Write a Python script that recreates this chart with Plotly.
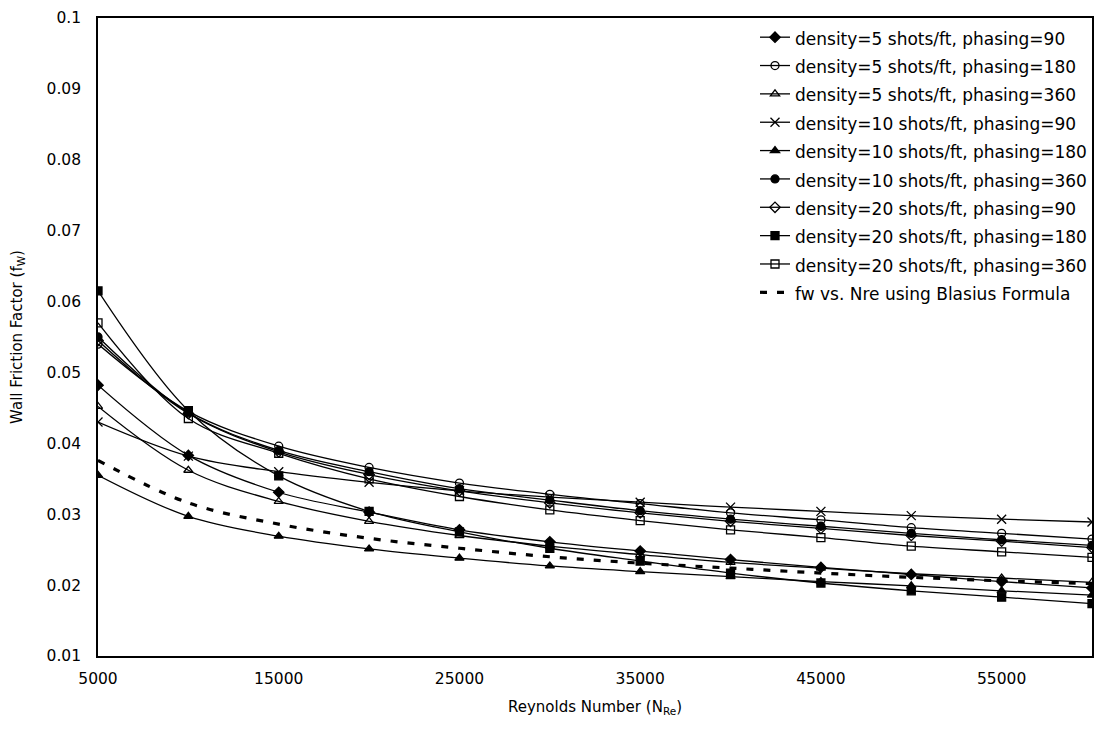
import plotly.graph_objects as go

reynolds = [5000, 10000, 15000, 20000, 25000, 30000, 35000, 40000, 45000, 50000, 55000, 60000]

d5_p90 = [0.0482, 0.0383, 0.0331, 0.0303, 0.0278, 0.0261, 0.0248, 0.0236, 0.0225, 0.0215, 0.0205, 0.0196]
d5_p180 = [0.0540, 0.0445, 0.0396, 0.0366, 0.0344, 0.0328, 0.0315, 0.0302, 0.0292, 0.0281, 0.0273, 0.0265]
d5_p360 = [0.0452, 0.0362, 0.0318, 0.0290, 0.0270, 0.0255, 0.0243, 0.0232, 0.0224, 0.0216, 0.0210, 0.0204]
d10_p90 = [0.0430, 0.0382, 0.0360, 0.0345, 0.0333, 0.0324, 0.0317, 0.0310, 0.0304, 0.0298, 0.0293, 0.0289]
d10_p180 = [0.0355, 0.0297, 0.0269, 0.0251, 0.0238, 0.0227, 0.0219, 0.0212, 0.0205, 0.0199, 0.0192, 0.0186]
d10_p360 = [0.0550, 0.0443, 0.0390, 0.0360, 0.0336, 0.0320, 0.0305, 0.0293, 0.0283, 0.0273, 0.0264, 0.0256]
d20_p90 = [0.0545, 0.0442, 0.0388, 0.0356, 0.0333, 0.0316, 0.0302, 0.0290, 0.0280, 0.0270, 0.0262, 0.0253]
d20_p180 = [0.0615, 0.0446, 0.0354, 0.0304, 0.0275, 0.0252, 0.0234, 0.0217, 0.0203, 0.0192, 0.0183, 0.0174]
d20_p360 = [0.0570, 0.0435, 0.0386, 0.0350, 0.0325, 0.0306, 0.0291, 0.0278, 0.0267, 0.0255, 0.0247, 0.0239]
blasius = [0.0376, 0.0316, 0.0286, 0.0266, 0.0252, 0.0240, 0.0231, 0.0224, 0.0217, 0.0211, 0.0206, 0.0202]

series_names = [
    "density=5 shots/ft, phasing=90",
    "density=5 shots/ft, phasing=180",
    "density=5 shots/ft, phasing=360",
    "density=10 shots/ft, phasing=90",
    "density=10 shots/ft, phasing=180",
    "density=10 shots/ft, phasing=360",
    "density=20 shots/ft, phasing=90",
    "density=20 shots/ft, phasing=180",
    "density=20 shots/ft, phasing=360",
]
series_values = [d5_p90, d5_p180, d5_p360, d10_p90, d10_p180, d10_p360, d20_p90, d20_p180, d20_p360]
symbols = ["diamond", "circle-open", "triangle-up-open", "x-thin-open", "triangle-up",
           "circle", "diamond-open", "square", "square-open"]
sizes = [8, 8, 8, 9, 8, 8, 8, 8, 8]
blasius_name = "fw vs. Nre using Blasius Formula"

FONT = "DejaVu Sans, Liberation Sans, Arial, sans-serif"
SPAN = '<span style="font-size:17px">'

fig = go.Figure()
for name, vals, sym, sz in zip(series_names, series_values, symbols, sizes):
    fig.add_trace(go.Scatter(
        x=reynolds, y=vals, name=SPAN + name + '</span>',
        mode="lines+markers",
        line=dict(color="black", width=1.3, shape="spline", smoothing=1),
        marker=dict(symbol=sym, size=sz, color="black",
                    line=dict(color="black", width=1.3)),
    ))
fig.add_trace(go.Scatter(
    x=reynolds, y=blasius, name=SPAN + blasius_name + '</span>',
    mode="lines",
    line=dict(color="black", width=3.2, dash="7px,10px", shape="spline", smoothing=1),
))

fig.update_layout(
    width=1097, height=741,
    margin=dict(l=98, r=3, t=18, b=85),
    paper_bgcolor="white", plot_bgcolor="white",
    font=dict(family=FONT, color="black", size=15),
    showlegend=True,
    legend=dict(
        x=1.0, y=1.0, xanchor="right", yanchor="top",
        font=dict(size=19.5, family=FONT),
        bgcolor="rgba(255,255,255,1)", borderwidth=0,
        tracegroupgap=0,
    ),
    xaxis=dict(
        range=[5000, 60000], tickvals=[5000, 15000, 25000, 35000, 45000, 55000],
        ticktext=["5000", "15000", "25000", "35000", "45000", "55000"],
        showgrid=False, zeroline=False, showline=True, linecolor="black", linewidth=1.6,
        mirror=True, ticks="", tickfont=dict(size=15.5, family=FONT), ticklabelstandoff=8,
        title=dict(text="Reynolds Number (N<sub>Re</sub>)", font=dict(size=15, family=FONT), standoff=14),
    ),
    yaxis=dict(
        range=[0.01, 0.1], dtick=0.01, tickformat=".2~f",
        showgrid=False, zeroline=False, showline=True, linecolor="black", linewidth=1.6,
        mirror=True, ticks="", tickfont=dict(size=15.5, family=FONT), ticklabelstandoff=12,
        title=dict(text="Wall Friction Factor (f<sub>W</sub>)", font=dict(size=15, family=FONT), standoff=20),
    ),
)

fig.write_html("out.html")
